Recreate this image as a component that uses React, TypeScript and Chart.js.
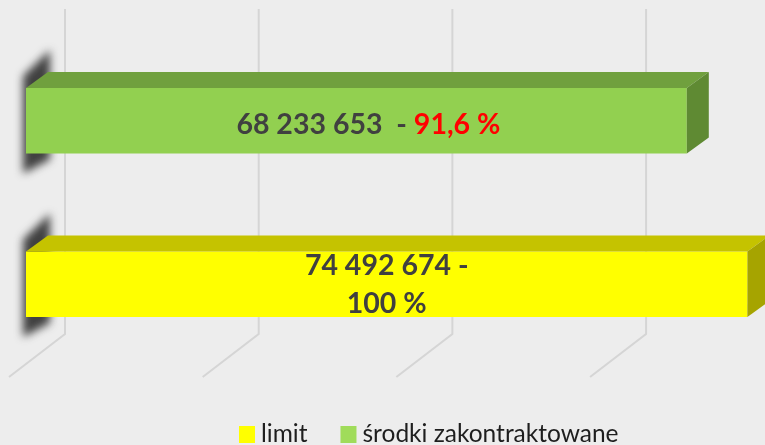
import React, { useEffect, useRef } from 'react';
import { Chart, registerables } from 'chart.js';

Chart.register(...registerables);

// ---- data ----
const categories = ['środki zakontraktowane', 'limit'];
const seriesNames = ['limit', 'środki zakontraktowane'];
const limitValues: (number | null)[] = [null, 74492674];
const contractedValues: (number | null)[] = [68233653, null];
const percentLabels = ['91,6 %', '100 %'];
const gridValues = [0, 20000000, 40000000, 60000000];
const axisMax = 76000000;

// ---- styles ----
const BG = '#ededed';
const FRONT = ['#ffff00', '#92d050'];
const TOP = ['#c5c300', '#70a03e'];
const SIDE = ['#a6a400', '#5f8a33'];
const DEPTH_X = 22;
const DEPTH_Y = 16;
const LABEL_FONT = 'bold 28.5px Lato';
const LEGEND_FONT = '24.5px Lato';

const fmt = (v: number) => String(v).replace(/\B(?=(\d{3})+(?!\d))/g, ' ');

const scenePlugin = {
  id: 'scene3d',
  beforeDraw(chart: any) {
    const { ctx, width, height } = chart;
    ctx.save();
    ctx.fillStyle = BG;
    ctx.fillRect(0, 0, width, height);
    ctx.restore();
  },
  beforeDatasetsDraw(chart: any) {
    const ctx = chart.ctx;
    const xs = chart.scales.x;
    ctx.save();
    // back wall gridlines + floor
    ctx.strokeStyle = '#d5d5d5';
    ctx.lineWidth = 2;
    gridValues.forEach((v) => {
      const px = xs.getPixelForValue(v) + 39;
      ctx.beginPath();
      ctx.moveTo(px, 9);
      ctx.lineTo(px, 334);
      ctx.lineTo(px - 56, 377);
      ctx.stroke();
    });
    // soft shadows at the left end of bars
    chart.data.datasets.forEach((ds: any, di: number) => {
      const meta = chart.getDatasetMeta(di);
      meta.data.forEach((el: any, i: number) => {
        if (ds.data[i] == null) return;
        const { y, base, height } = el.getProps(['x', 'y', 'base', 'height'], true);
        const top = y - height / 2;
        const bottom = y + height / 2;
        ctx.filter = 'blur(4px)';
        ctx.fillStyle = 'rgba(45,45,45,0.9)';
        ctx.beginPath();
        ctx.moveTo(base - 3, top - 12);
        ctx.lineTo(base + 24, top - 38);
        ctx.lineTo(base + 24, bottom + 6);
        ctx.lineTo(base - 3, bottom + 20);
        ctx.closePath();
        ctx.fill();
        ctx.filter = 'none';
      });
    });
    ctx.restore();
  },
  afterDatasetsDraw(chart: any) {
    const ctx = chart.ctx;
    ctx.save();
    chart.data.datasets.forEach((ds: any, di: number) => {
      const meta = chart.getDatasetMeta(di);
      meta.data.forEach((el: any, i: number) => {
        const v = ds.data[i];
        if (v == null) return;
        const { x, y, base, height } = el.getProps(['x', 'y', 'base', 'height'], true);
        const top = y - height / 2;
        const bottom = y + height / 2;
        // top face
        ctx.fillStyle = TOP[di];
        ctx.beginPath();
        ctx.moveTo(base, top);
        ctx.lineTo(base + DEPTH_X, top - DEPTH_Y);
        ctx.lineTo(x + DEPTH_X, top - DEPTH_Y);
        ctx.lineTo(x, top);
        ctx.closePath();
        ctx.fill();
        // side face
        ctx.fillStyle = SIDE[di];
        ctx.beginPath();
        ctx.moveTo(x, top);
        ctx.lineTo(x + DEPTH_X, top - DEPTH_Y);
        ctx.lineTo(x + DEPTH_X, bottom - DEPTH_Y);
        ctx.lineTo(x, bottom);
        ctx.closePath();
        ctx.fill();

        // labels
        ctx.font = LABEL_FONT;
        ctx.textBaseline = 'alphabetic';
        const cx = (base + x) / 2;
        if (di === 0) {
          ctx.fillStyle = '#404040';
          ctx.textAlign = 'center';
          ctx.fillText(`${fmt(v)} -`, cx, y - 9);
          ctx.fillText(percentLabels[i], cx, y + 29);
        } else {
          const p1 = `${fmt(v)}  - `;
          const p2 = percentLabels[i];
          const w1 = ctx.measureText(p1).width;
          const w2 = ctx.measureText(p2).width;
          const sx = cx + 12 - (w1 + w2) / 2;
          ctx.textAlign = 'left';
          ctx.fillStyle = '#404040';
          ctx.fillText(p1, sx, y + 13);
          ctx.fillStyle = '#ff0000';
          ctx.fillText(p2, sx + w1, y + 13);
        }
      });
    });
    ctx.restore();
  },
  afterDraw(chart: any) {
    const ctx = chart.ctx;
    ctx.save();
    ctx.font = LEGEND_FONT;
    ctx.textBaseline = 'alphabetic';
    ctx.textAlign = 'left';
    let px = 239;
    chart.data.datasets.forEach((ds: any, di: number) => {
      ctx.fillStyle = di === 0 ? '#ffff00' : '#a0dc5a';
      ctx.fillRect(px, 426, 16, 17);
      ctx.fillStyle = '#1e1e1e';
      ctx.fillText(ds.label, px + 22, 442);
      px += 22 + ctx.measureText(ds.label).width + 33;
    });
    ctx.restore();
  },
};

export default function App() {
  const ref = useRef<HTMLCanvasElement | null>(null);
  useEffect(() => {
    if (!ref.current) return;
    const chart = new Chart(ref.current, {
      type: 'bar',
      data: {
        labels: categories,
        datasets: [
          { label: seriesNames[0], data: limitValues, backgroundColor: FRONT[0], borderWidth: 0 },
          { label: seriesNames[1], data: contractedValues, backgroundColor: FRONT[1], borderWidth: 0 },
        ],
      },
      options: {
        indexAxis: 'y',
        responsive: false,
        animation: false,
        layout: { padding: { left: 26, right: 3, top: 39, bottom: 79 } },
        datasets: { bar: { grouped: false, categoryPercentage: 1, barPercentage: 0.4 } } as any,
        scales: {
          x: { display: false, min: 0, max: axisMax },
          y: { display: false },
        },
        plugins: { legend: { display: false }, tooltip: { enabled: false } },
      },
      plugins: [scenePlugin],
    });
    return () => chart.destroy();
  }, []);
  return (
    <div style={{ position: 'fixed', left: 0, top: 0, width: 765, height: 445, background: BG }}>
      <canvas ref={ref} width={765} height={445} style={{ display: 'block' }} />
    </div>
  );
}
